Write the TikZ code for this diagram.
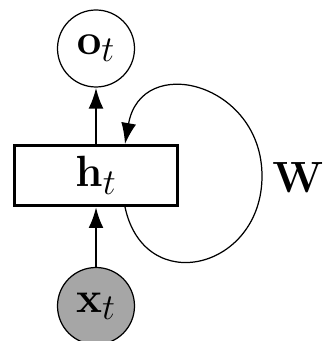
\documentclass[tikz,border=0pt]{standalone}
\usepackage{amsmath}
\usepackage{tikz}
\usetikzlibrary{arrows.meta}

\begin{document}
\begin{tikzpicture}[>={Latex[length=0.42cm,width=0.3cm]}, line width=0.8pt]
  \useasboundingbox (0,0) rectangle (6.54,6.82);
  \tikzset{
    unit/.style={circle, draw, line width=0.7pt, minimum size=1.54cm, inner sep=0pt,
                 font=\fontsize{31}{37}\selectfont},
    state/.style={rectangle, draw, line width=0.06cm, minimum width=3.26cm,
                  minimum height=1.2cm, inner sep=0pt, font=\fontsize{31}{37}\selectfont},
  }
  \node[unit, fill=black!35] (x) at (1.92,0.70) {$\mathbf{x}_t$};
  \node[state] (h) at (1.92,3.31) {$\mathbf{h}_t$};
  \node[unit] (o) at (1.92,5.85) {$\mathbf{o}_t$};
  \node[font=\fontsize{31}{37}\selectfont] (w) at (5.96,3.26) {$\mathbf{W}$};
  \coordinate (r) at (5.24,3.30);
  \draw[->, line width=1.5pt] (x) -- (h);
  \draw[->, line width=1.5pt] (h) -- (o);
  \draw[->, line width=0.7pt] ([xshift=0.58cm]h.south) to[out=-78, in=-90, looseness=1.7] (r)
        to[out=90, in=80, looseness=1.7] ([xshift=0.58cm]h.north);
\end{tikzpicture}
\end{document}
